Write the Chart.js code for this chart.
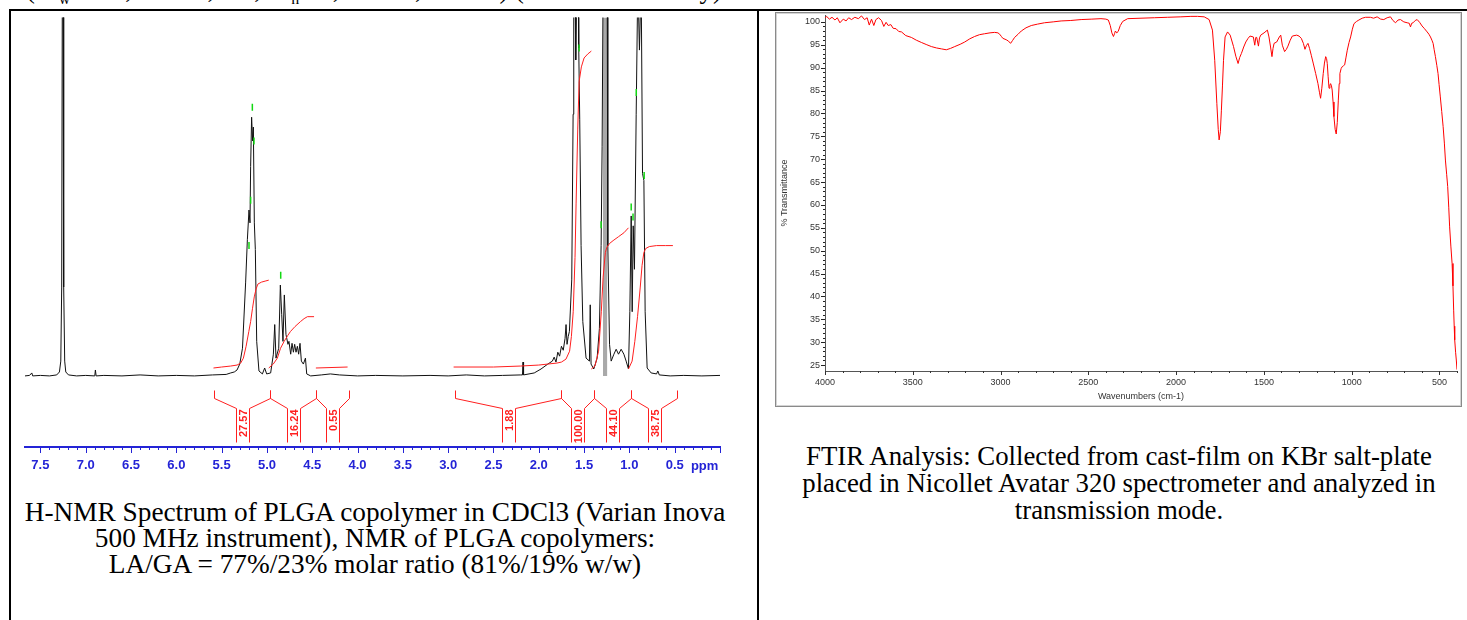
<!DOCTYPE html>
<html>
<head>
<meta charset="utf-8">
<script src="https://cdn.jsdelivr.net/npm/chart.js@4.4.0/dist/chart.umd.min.js"></script>
<style>
    body { margin: 0; width: 1467px; height: 620px; overflow: hidden; background: #fff; position: relative;
           font-family: "Liberation Serif", "Times New Roman", serif; }
    .cut-line { position: absolute; left: 26px; top: -25px; font-size: 26.7px; line-height: 28px; white-space: nowrap; }
    .table-frame { position: absolute; left: 9px; top: 9px; width: 1520px; height: 700px; border: 2px solid #000; }
    .divider { position: absolute; left: 757px; top: 9px; width: 2px; height: 620px; background: #000; }
    #nmr { position: absolute; left: 12px; top: 12px; }
    .ir-frame { position: absolute; left: 775px; top: 12px; width: 685px; height: 393px;
                border: 1px solid #8a8a8a; box-shadow: inset 0 0 0 1px #d4d4d4; background: #fff; }
    #ir { position: absolute; left: 778px; top: 15px; }
    .caption { position: absolute; text-align: center; white-space: nowrap; }
</style>
</head>
<body>
<div class="cut-line">(M<sub style="font-size:16px">w</sub> = 75,000-85,000, M<sub style="font-size:16px">n</sub> 40,000-50,000 Da) (inherent viscosity)</div>
<div class="table-frame"></div>
<div class="divider"></div>

<canvas id="nmr" width="744" height="475"></canvas>
<div class="ir-frame"></div>
<canvas id="ir" width="681" height="390"></canvas>

<div class="caption" style="left:10px; width:730px; top:499px; font-size:27.3px; line-height:26px;">
    H-NMR Spectrum of PLGA copolymer in CDCl3 (Varian Inova<br>
    500 MHz instrument), NMR of PLGA copolymers:<br>
    LA/GA = 77%/23% molar ratio (81%/19% w/w)
</div>
<div class="caption" style="left:769px; width:700px; top:443px; font-size:26.8px; line-height:27px;">
    FTIR Analysis: Collected from cast-film on KBr salt-plate<br>
    placed in Nicollet Avatar 320 spectrometer and analyzed in<br>
    transmission mode.
</div>

<script>
// ---- H-NMR spectrum, chemical shift (ppm) and relative intensity
const nmrShift = [
    7.67, 7.62, 7.595, 7.585, 7.50, 7.40, 7.32, 7.29, 7.275, 7.265, 7.258, 7.250, 7.243, 7.232, 7.22, 7.19,
    7.10, 7.00, 6.90, 6.893, 6.885, 6.80, 6.60, 6.40, 6.20, 6.00, 5.80, 5.60, 5.45, 5.40, 5.36, 5.33,
    5.30, 5.27, 5.235, 5.216, 5.198, 5.187, 5.18, 5.169, 5.158, 5.150, 5.139, 5.128, 5.113, 5.088, 5.05, 5.025,
    5.003, 4.959, 4.929, 4.914, 4.900, 4.870, 4.852, 4.837, 4.823, 4.808, 4.790, 4.768, 4.757, 4.738, 4.723, 4.708,
    4.694, 4.679, 4.664, 4.650, 4.635, 4.620, 4.598, 4.575, 4.561, 4.517, 4.40, 4.30, 4.20, 4.00, 3.80, 3.50,
    3.20, 3.00, 2.80, 2.60, 2.40, 2.20, 2.180, 2.174, 2.168, 2.05, 1.975, 1.90, 1.85, 1.83, 1.81, 1.79,
    1.77, 1.75, 1.73, 1.71, 1.699, 1.688, 1.675, 1.662, 1.636, 1.621, 1.614, 1.600, 1.592, 1.580, 1.565, 1.559,
    1.548, 1.533, 1.514, 1.478, 1.441, 1.432, 1.423, 1.393, 1.356, 1.331, 1.312, 1.301, 1.290, 1.245, 1.238, 1.219,
    1.201, 1.171, 1.146, 1.120, 1.091, 1.061, 1.036, 1.010, 0.995, 0.980, 0.969, 0.958, 0.944, 0.925, 0.907, 0.889,
    0.870, 0.855, 0.840, 0.826, 0.804, 0.760, 0.700, 0.686, 0.670, 0.55, 0.40, 0.20, 0.00
];
const nmrSignal = [
    0, 0.5, 3, 0, 0.5, 0, 1, 4, 15, 90, 400, 400, 90, 15, 4, 1,
    0, 0.5, 0, 6, 0, 0.5, 0, 1, 0, 0.5, 0, 1, 1.5, 3, 4, 6,
    12, 28, 95, 138, 168, 155, 212, 262, 238, 252, 155, 128, 35, 5, 2, 8,
    2, 3, 22, 52, 18, 28, 92, 62, 35, 82, 42, 32, 35, 22, 33, 24,
    32, 24, 30, 22, 33, 15, 12, 18, 2, 0, 1, 2, 1, 0, 0.5, 0,
    0.5, 0, 1, 0, 0.5, 1, 1, 14, 1, 3, 7, 12, 15, 19, 14, 24,
    20, 30, 26, 38, 52, 32, 40, 45, 98, 265, 400, 400, 320, 400, 400, 332,
    260, 132, 55, 18, 15, 72, 12, 7, 18, 48, 132, 232, 400, 400, 132, 32,
    15, 22, 27, 22, 27, 22, 15, 7, 65, 162, 65, 152, 108, 265, 400, 330,
    400, 205, 198, 65, 8, 3, 2, 5, 1, 0, 0.5, 0, 0.5
];
// overlapping lines of the 1.27 ppm signal, shown as a grey band
const bandShift = [1.292, 1.289, 1.247, 1.243];
const bandSignal = [200, 400, 400, 200];

// integral curves (null separates the regions)
const intShift = [
    5.59, 5.50, 5.40, 5.33, 5.29, 5.26, 5.23, 5.20, 5.18, 5.16, 5.14, 5.12, 5.10, 5.06, 5.02, 4.98, null,
    4.98, 4.93, 4.885, 4.85, 4.81, 4.77, 4.74, 4.69, 4.63, 4.59, 4.553, 4.48, null,
    4.46, 4.11, null,
    2.94, 2.50, 2.20, 2.00, 1.90, 1.80, 1.75, null,
    1.75, 1.70, 1.66, 1.64, 1.62, 1.60, 1.588, 1.57, 1.555, 1.53, 1.50, 1.46, 1.42, null,
    1.42, 1.38, 1.34, 1.31, 1.29, 1.265, 1.25, 1.22, 1.18, 1.12, 1.06, 1.01, null,
    1.01, 0.97, 0.94, 0.91, 0.88, 0.86, 0.84, 0.82, 0.78, 0.70, 0.60, 0.52
];
const intHeight = [
    8, 9, 10, 11, 13, 18, 30, 45, 55, 68, 80, 88, 93, 95, 96, 97, null,
    8, 12, 18, 28, 35, 41, 45, 50, 55, 58, 60, 60, null,
    8, 9, null,
    9, 9, 10, 11, 12, 13, 14, null,
    14, 17, 25, 40, 65, 120, 175, 250, 298, 313, 322, 326, 329, null,
    7, 10, 25, 65, 100, 125, 130, 134, 137, 141, 145, 150, null,
    7, 15, 35, 60, 90, 112, 125, 129, 131, 132, 132, 132
];

// integration regions (ppm) and their values
const regionFrom = [5.58, 4.97, 4.46, 2.93, 1.75, 1.39, 0.98];
const regionTo = [4.97, 4.46, 4.09, 1.75, 1.39, 0.98, 0.48];
const regionValue = [27.57, 16.24, 0.55, 1.88, 100.00, 44.10, 38.75];

// peak picking marks
const pickShift = [5.161, 5.143, 5.18, 5.198, 4.848, 1.555, 1.312, 0.924, 0.98, 0.96, 0.837];
const pickHeight = [272, 238, 178, 132, 102, 332, 153, 287, 171, 161, 203];

// ---- FTIR spectrum, wavenumber (cm-1) and % transmittance
const irWavenumber = [
    4000, 3991, 3975, 3960, 3943, 3930, 3915, 3896, 3880, 3865, 3849, 3830, 3810, 3792, 3775, 3760,
    3748, 3735, 3722, 3710, 3695, 3678, 3665, 3652, 3640, 3625, 3612, 3595, 3580, 3564, 3540, 3508,
    3480, 3451, 3420, 3394, 3365, 3337, 3309, 3285, 3261, 3230, 3204, 3175, 3148, 3120, 3091, 3060,
    3034, 3015, 3005, 2995, 2987, 2968, 2955, 2943, 2932, 2920, 2900, 2882, 2855, 2825, 2790, 2750,
    2700, 2655, 2600, 2541, 2480, 2428, 2400, 2386, 2375, 2366, 2357, 2350, 2346, 2338, 2330, 2318,
    2304, 2276, 2200, 2124, 2050, 1973, 1916, 1878, 1840, 1812, 1793, 1780, 1768, 1760, 1755, 1748,
    1742, 1736, 1730, 1721, 1707, 1692, 1673, 1660, 1647, 1638, 1628, 1615, 1603, 1590, 1579, 1560,
    1552, 1546, 1541, 1531, 1525, 1518, 1499, 1480, 1471, 1462, 1454, 1448, 1442, 1427, 1412, 1404,
    1395, 1382, 1372, 1363, 1350, 1338, 1313, 1300, 1287, 1275, 1266, 1258, 1249, 1240, 1230, 1218,
    1205, 1192, 1183, 1177, 1170, 1162, 1155, 1148, 1143, 1139, 1134, 1129, 1124, 1120, 1115, 1111,
    1106, 1101, 1094, 1088, 1082, 1076, 1071, 1067, 1060, 1054, 1047, 1040, 1032, 1025, 1015, 1006,
    996, 987, 972, 959, 940, 921, 893, 875, 855, 835, 817, 798, 779, 765, 750, 736,
    722, 703, 684, 672, 665, 658, 650, 638, 627, 613, 599, 585, 570, 560, 551, 543,
    536, 530, 523, 515, 508, 502, 495, 487, 479, 472, 466, 459, 453, 447, 442, 435,
    428, 423, 419, 416, 413, 408, 404, 400
];
const irTransmittance = [
    100.8, 101.2, 100.6, 101.0, 100.4, 100.9, 99.8, 100.6, 100.2, 100.9, 100.5, 101.0, 100.7, 101.3, 100.5, 100.9,
    99.3, 100.6, 99.2, 100.5, 100.9, 100.3, 99.0, 99.9, 99.2, 99.4, 98.6, 98.5, 97.9, 97.8, 97.0, 96.6,
    96.0, 95.5, 95.0, 94.6, 94.3, 94.1, 93.9, 94.2, 94.6, 95.1, 95.6, 96.3, 96.8, 97.2, 97.4, 97.6,
    97.7, 97.6, 97.3, 96.8, 96.4, 96.1, 95.8, 95.3, 95.9, 96.6, 97.3, 98.0, 98.7, 99.2, 99.5, 99.8,
    100.0, 100.2, 100.3, 100.5, 100.6, 100.7, 100.6, 100.4, 99.2, 97.6, 96.8, 97.5, 98.0, 97.6, 97.9, 99.2,
    100.1, 100.7, 100.8, 100.9, 101.0, 101.1, 101.2, 101.2, 101.1, 100.5, 98.2, 91.6, 82.2, 76.5, 74.2, 76.0,
    80.7, 86.0, 91.6, 96.7, 97.8, 97.1, 94.6, 92.5, 90.9, 92.2, 93.1, 94.5, 95.6, 96.4, 96.9, 96.7,
    94.9, 96.6, 96.6, 94.7, 96.5, 97.1, 97.6, 98.2, 96.7, 94.5, 92.4, 94.2, 95.3, 95.6, 96.7, 97.1,
    94.9, 93.5, 94.0, 94.7, 96.0, 96.9, 97.1, 96.9, 96.4, 95.3, 94.0, 94.8, 95.3, 94.2, 92.7, 90.8,
    88.7, 86.5, 84.5, 83.3, 85.5, 88.7, 91.0, 92.4, 92.0, 90.9, 88.0, 85.5, 86.2, 86.5, 86.0, 85.1,
    82.5, 79.3, 76.5, 75.5, 78.0, 82.9, 86.5, 88.7, 89.8, 90.2, 90.4, 90.6, 92.3, 93.8, 95.5, 96.7,
    98.4, 99.6, 100.1, 100.4, 100.8, 101.0, 101.0, 100.8, 101.1, 100.6, 100.5, 100.9, 101.1, 100.3, 99.8, 100.4,
    100.5, 100.0, 99.8, 99.7, 98.9, 99.7, 99.8, 100.3, 100.5, 99.9, 99.1, 98.5, 97.8, 97.3, 96.7, 96.0,
    95.3, 93.9, 92.4, 90.5, 88.7, 86.3, 83.6, 80.4, 77.1, 73.5, 69.8, 66.7, 64.0, 59.5, 55.2, 51.0,
    47.2, 42.3, 37.0, 33.5, 30.5, 27.8, 26.1, 24.0
];

const toPoints = (xs, ys) => xs.map((x, i) => ({ x: x, y: ys[i] }));

/**
 * Draws short outward tick marks for every tick of a scale, longer ones on the majors
 */
function drawTickMarks(chart, scaleId, isMajor, majorLen, minorLen, color, skip) {
    const scale = chart.scales[scaleId];
    const ctx = chart.ctx;
    ctx.save();
    ctx.strokeStyle = color;
    ctx.lineWidth = 1;
    ctx.beginPath();
    scale.ticks.forEach(t => {
        if (skip(t.value)) return;
        const len = isMajor(t.value) ? majorLen : minorLen;
        const p = Math.round(scale.getPixelForValue(t.value)) + 0.5;
        if (scale.isHorizontal()) {
            ctx.moveTo(p, scale.top);
            ctx.lineTo(p, scale.top + len);
        } else {
            ctx.moveTo(scale.right - len, p);
            ctx.lineTo(scale.right, p);
        }
    });
    ctx.stroke();
    ctx.restore();
}

const onStep = (v, step) => Math.abs(v / step - Math.round(v / step)) < 1e-6;

const NMR_BLUE = '#2424d6';
const NMR_RED = '#ff1f1f';

// integration brackets and values under the spectrum, plus minor ticks and the unit
const nmrExtras = {
    id: 'nmrExtras',
    afterDraw(chart) {
        const { ctx, scales: { x, y } } = chart;
        ctx.save();
        ctx.strokeStyle = NMR_RED;
        ctx.fillStyle = NMR_RED;
        ctx.lineWidth = 1;
        const yTop = Math.round(y.getPixelForValue(-14)) + 0.5;
        const yKnee = Math.round(y.getPixelForValue(-22)) + 0.5;
        const yIn = Math.round(y.getPixelForValue(-33)) + 0.5;
        const yEnd = Math.round(y.getPixelForValue(-67)) + 0.5;
        regionFrom.forEach((from, i) => {
            const a = Math.round(x.getPixelForValue(from)) + 0.5;
            const b = Math.round(x.getPixelForValue(regionTo[i])) + 0.5;
            const m = Math.round((a + b) / 2);
            ctx.beginPath();
            ctx.moveTo(a, yTop); ctx.lineTo(a, yKnee); ctx.lineTo(m - 6.5, yIn); ctx.lineTo(m - 6.5, yEnd);
            ctx.moveTo(b, yTop); ctx.lineTo(b, yKnee); ctx.lineTo(m + 6.5, yIn); ctx.lineTo(m + 6.5, yEnd);
            ctx.stroke();
            ctx.save();
            ctx.translate(m + 0.5, yIn + 1);
            ctx.rotate(-Math.PI / 2);
            ctx.textAlign = 'right';
            ctx.textBaseline = 'middle';
            ctx.font = 'bold 11px "Liberation Sans", Arial, sans-serif';
            ctx.fillText(regionValue[i].toFixed(2), 0, 0);
            ctx.restore();
        });
        ctx.restore();

        drawTickMarks(chart, 'x', v => onStep(v, 0.5), 6, 3, NMR_BLUE, v => !onStep(v, 0.1));

        ctx.save();
        ctx.fillStyle = NMR_BLUE;
        ctx.font = 'bold 13px "Liberation Sans", Arial, sans-serif';
        ctx.textAlign = 'center';
        ctx.textBaseline = 'middle';
        ctx.fillText('ppm', x.getPixelForValue(0.17), x.top + 19);
        ctx.restore();
    }
};

new Chart(document.getElementById('nmr'), {
    type: 'line',
    data: {
        datasets: [
            {
                label: 'Peak picking',
                data: toPoints(pickShift, pickHeight),
                showLine: false,
                pointStyle: 'line',
                rotation: 90,
                pointRadius: 3.5,
                borderColor: '#12d812',
                borderWidth: 1.5
            },
            {
                label: 'Integral',
                data: toPoints(intShift, intHeight),
                borderColor: NMR_RED,
                borderWidth: 1,
                pointRadius: 0,
                spanGaps: false
            },
            {
                label: 'Spectrum',
                data: toPoints(nmrShift, nmrSignal),
                borderColor: '#111',
                borderWidth: 1,
                pointRadius: 0
            },
            {
                label: 'Overlap',
                data: toPoints(bandShift, bandSignal),
                borderWidth: 0,
                borderColor: 'rgba(0,0,0,0)',
                backgroundColor: '#a9a9a9',
                fill: 'origin',
                pointRadius: 0
            }
        ]
    },
    options: {
        responsive: false,
        animation: false,
        events: [],
        layout: { padding: { left: 13, right: 36, top: 0, bottom: 0 } },
        elements: { line: { tension: 0 } },
        plugins: { legend: { display: false }, tooltip: { enabled: false } },
        scales: {
            x: {
                type: 'linear',
                reverse: true,
                min: 0,
                max: 7.67,
                border: { display: true, color: NMR_BLUE, width: 2 },
                grid: { display: false, drawTicks: true, tickLength: 6 },
                ticks: {
                    stepSize: 0.1,
                    maxTicksLimit: 1000,
                    autoSkip: false,
                    maxRotation: 0,
                    minRotation: 0,
                    padding: 5,
                    color: NMR_BLUE,
                    font: { family: '"Liberation Sans", Arial, sans-serif', size: 13, weight: 'bold' },
                    callback: v => (onStep(v, 0.5) && v > 0.01 && v < 7.6) ? v.toFixed(1) : ''
                },
                afterFit: s => { s.height = 40; s.paddingLeft = 0; s.paddingRight = 0; }
            },
            y: { display: false, min: -72, max: 363 }
        }
    },
    plugins: [nmrExtras]
});

// FTIR minor ticks on both axes
const irTicks = {
    id: 'irTicks',
    afterDraw(chart) {
        drawTickMarks(chart, 'x', v => onStep(v, 500), 4, 2, '#333', v => !onStep(v, 100));
        drawTickMarks(chart, 'y', v => onStep(v, 5), 4, 2, '#222', v => !onStep(v, 1));
    }
};

const irFont = { family: '"Liberation Sans", Arial, sans-serif', size: 9 };

new Chart(document.getElementById('ir'), {
    type: 'line',
    data: {
        datasets: [{
            label: '% Transmittance',
            data: toPoints(irWavenumber, irTransmittance),
            borderColor: '#ff0000',
            borderWidth: 1,
            pointRadius: 0
        }]
    },
    options: {
        responsive: false,
        animation: false,
        events: [],
        layout: { padding: { left: 0, right: 2, top: 0, bottom: 0 } },
        elements: { line: { tension: 0 } },
        plugins: { legend: { display: false }, tooltip: { enabled: false } },
        scales: {
            x: {
                type: 'linear',
                reverse: true,
                min: 400,
                max: 4000,
                border: { display: true, color: '#555', width: 1 },
                grid: { display: false, drawTicks: true, tickLength: 4 },
                ticks: {
                    stepSize: 100,
                    maxTicksLimit: 1000,
                    autoSkip: false,
                    maxRotation: 0,
                    minRotation: 0,
                    padding: 2,
                    color: '#333',
                    font: irFont,
                    callback: v => onStep(v, 500) ? String(v) : ''
                },
                title: { display: true, text: 'Wavenumbers (cm-1)', color: '#333', font: irFont, padding: { top: 0, bottom: 3 } },
                afterFit: s => { s.height = 34; s.paddingLeft = 0; s.paddingRight = 0; }
            },
            y: {
                min: 23.7,
                max: 101.5,
                border: { display: true, color: '#555', width: 1 },
                grid: { display: false, drawTicks: true, tickLength: 4 },
                ticks: {
                    stepSize: 1,
                    maxTicksLimit: 1000,
                    autoSkip: false,
                    padding: 1,
                    color: '#333',
                    font: irFont,
                    callback: v => onStep(v, 5) ? String(v) : ''
                },
                title: { display: true, text: '% Transmittance', color: '#333', font: irFont, padding: { top: 1, bottom: 0 } },
                afterFit: s => { s.width = 47; s.paddingTop = 0; s.paddingBottom = 0; }
            }
        }
    },
    plugins: [irTicks]
});
</script>
</body>
</html>
